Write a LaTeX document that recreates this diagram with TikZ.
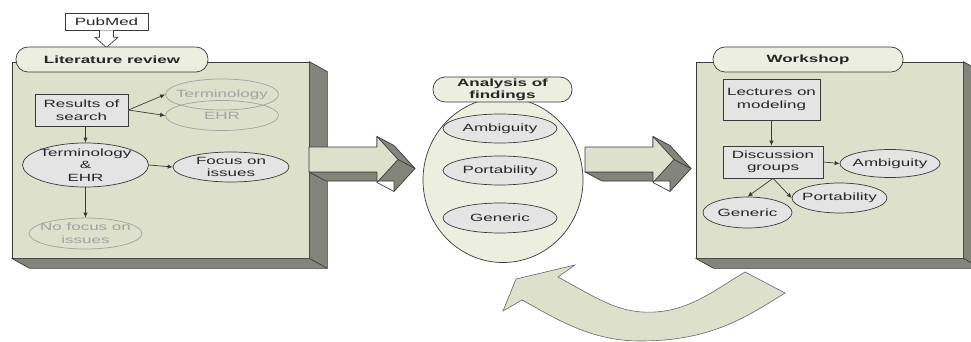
\documentclass[tikz,border=0pt]{standalone}
\usepackage{fontspec}
\setmainfont{Liberation Sans}[FakeStretch=1.62]
\usetikzlibrary{arrows.meta,shapes.geometric}
\definecolor{panelc}{HTML}{DDE0CA}
\definecolor{darkc}{HTML}{83857A}
\definecolor{lightc}{HTML}{ECEEE0}
\definecolor{grayc}{HTML}{E4E4E4}
\definecolor{edgec}{HTML}{3A3A3A}
\definecolor{fadec}{HTML}{A2A2A2}
\begin{document}
\begin{tikzpicture}[x=1pt,y=-1pt,
  every node/.style={font=\fontsize{10.5}{12.5}\selectfont, text=black!85, align=center},
  panel/.style={draw=edgec, fill=panelc, line width=0.7pt, rectangle, inner sep=0},
  side/.style={draw=edgec, fill=darkc, line width=0.7pt, line join=round},
  tag/.style={draw=edgec, fill=lightc, rounded corners=12pt, line width=0.7pt,
    font=\bfseries\fontsize{10.5}{12}\selectfont, inner ysep=0.5pt},
  gbox/.style={draw=edgec, fill=grayc, rectangle, line width=0.7pt, inner sep=1pt},
  gell/.style={draw=edgec, fill=grayc, ellipse, line width=0.7pt, inner xsep=-5pt, inner ysep=-2pt},
  fell/.style={draw=fadec, ellipse, line width=0.7pt, text=fadec, inner xsep=-8pt, inner ysep=-2pt},
  con/.style={draw=edgec, line width=0.7pt, -{Latex[length=5pt,width=4.5pt]}},
  fatarr/.pic={
    \filldraw[side] (0,12.5) -- (17,21.5) -- (85,21.5) -- (85,32) -- (106,9)
      -- (85,-14) -- (68,-23) -- (68,12.5) -- cycle;
    \draw[edgec, line width=0.7pt] (68,23) -- (85,32) (89,0) -- (106,9);
    \filldraw[draw=edgec, fill=panelc, line width=0.7pt, line join=round]
      (0,-12.5) -- (68,-12.5) -- (68,-23) -- (89,0) -- (68,23) -- (68,12.5)
      -- (0,12.5) -- cycle;
  },
]
\useasboundingbox (0,0) rectangle (971,342);
\clip (0,0) rectangle (971,342);

% ---------- Literature review panel ----------
\node[panel, minimum width=297pt, minimum height=196pt] (litp) at (160.5,160) {};
\filldraw[side] (litp.north east) -- ([shift={(18,10)}]litp.north east)
  -- ([shift={(18,10)}]litp.south east) -- ([shift={(18,10)}]litp.south west)
  -- (litp.south west) -- (litp.south east) -- cycle;
\draw[edgec, line width=0.7pt] (litp.south east) -- ([shift={(18,10)}]litp.south east);

\node[draw=edgec, fill=white, line width=0.7pt, minimum width=83pt, minimum height=17pt, inner sep=0] (pub) at (106.5,21.5) {PubMed};
\coordinate (pa) at (pub.south);
\filldraw[draw=edgec, fill=white, line width=0.7pt, line join=round]
  (pa) ++(-7,0) -- ++(0,7) -- ++(-4.5,0) -- ++(11.5,10) -- ++(11.5,-10) -- ++(-4.5,0) -- ++(0,-7);

\node[tag, minimum width=192pt, minimum height=25pt] (litt) at (112,59.5) {Literature review};

\node[gbox, minimum width=93pt, minimum height=32pt] (res) at (81.5,110) {Results of\\search};
\node[fell, minimum width=113pt, minimum height=31pt] (term) at (222,94.5) {Terminology};
\node[fell, minimum width=113pt, minimum height=30pt] (ehr) at (222,115.5) {EHR};
\node[gell, minimum width=126pt, minimum height=44pt, inner ysep=-5pt] (te) at (85.5,165) {Terminology\\\&\\EHR};
\node[gell, minimum width=116pt, minimum height=30pt] (foc) at (231,167) {Focus on\\issues};
\node[fell, minimum width=113pt, minimum height=31pt] (nof) at (85.5,233.5) {No focus on\\issues};

\draw[con] (res.east) -- (term.west);
\draw[con] (res.east) -- (ehr.west);
\draw[con] (te.north |- res.south) -- (te.north);
\draw[con] (te.east) -- (foc.west);
\draw[con] (te.south) -- (nof.north);

% ---------- arrows between stages ----------
\pic at (309,159.5) {fatarr};
\pic at (585,159.5) {fatarr};

% ---------- Analysis of findings ----------
\node[ellipse, draw=edgec, fill=lightc, line width=0.7pt, minimum width=160pt, minimum height=165pt] (ana) at (503,180) {};
\node[tag, minimum width=139pt, minimum height=25pt] (anat) at (502.5,89.5) {Analysis of\\findings};
\node[gell, minimum width=114pt, minimum height=29pt] (a1) at (500,128.5) {Ambiguity};
\node[gell, minimum width=114pt, minimum height=29pt] (a2) at (500,170.5) {Portability};
\node[gell, minimum width=114pt, minimum height=30pt] (a3) at (500,218) {Generic};

% ---------- Workshop panel ----------
\node[panel, minimum width=267pt, minimum height=196pt] (wsp) at (829.5,160) {};
\filldraw[side] (wsp.north east) -- ([shift={(18,10)}]wsp.north east)
  -- ([shift={(18,10)}]wsp.south east) -- ([shift={(18,10)}]wsp.south west)
  -- (wsp.south west) -- (wsp.south east) -- cycle;
\draw[edgec, line width=0.7pt] (wsp.south east) -- ([shift={(18,10)}]wsp.south east);

\node[tag, minimum width=190pt, minimum height=25pt] (wst) at (808,59.5) {Workshop};
\node[gbox, minimum width=97pt, minimum height=41pt] (lec) at (771.5,99.5) {Lectures on\\modeling};
\node[gbox, minimum width=100pt, minimum height=32pt] (dis) at (773,162) {Discussion\\groups};
\node[gell, minimum width=100pt, minimum height=28pt] (amb) at (890,163.5) {Ambiguity};
\node[gell, minimum width=95pt, minimum height=30pt] (por) at (839.5,198) {Portability};
\node[gell, minimum width=89pt, minimum height=31pt] (gen) at (747.5,212.5) {Generic};

\draw[con] (lec.south) -- (dis.north -| lec.south);
\draw[con] (dis.east) -- (amb.west);
\draw[con] (dis.south) -- (gen.north);
\draw[con] (dis.south) -- (por.west);

% ---------- curved feedback arrow ----------
\filldraw[draw=black!60, fill=panelc, line width=0.6pt, line join=miter]
  (503,311) -- (516,279) -- (575,265) -- (558,277)
  .. controls (600,300) and (620,314) .. (655,312)
  .. controls (690,310) and (715,290) .. (745,272)
  -- (785,293)
  .. controls (745,318) and (710,341) .. (640,341)
  .. controls (590,341) and (555,318) .. (522,300)
  -- cycle;
\end{tikzpicture}
\end{document}
